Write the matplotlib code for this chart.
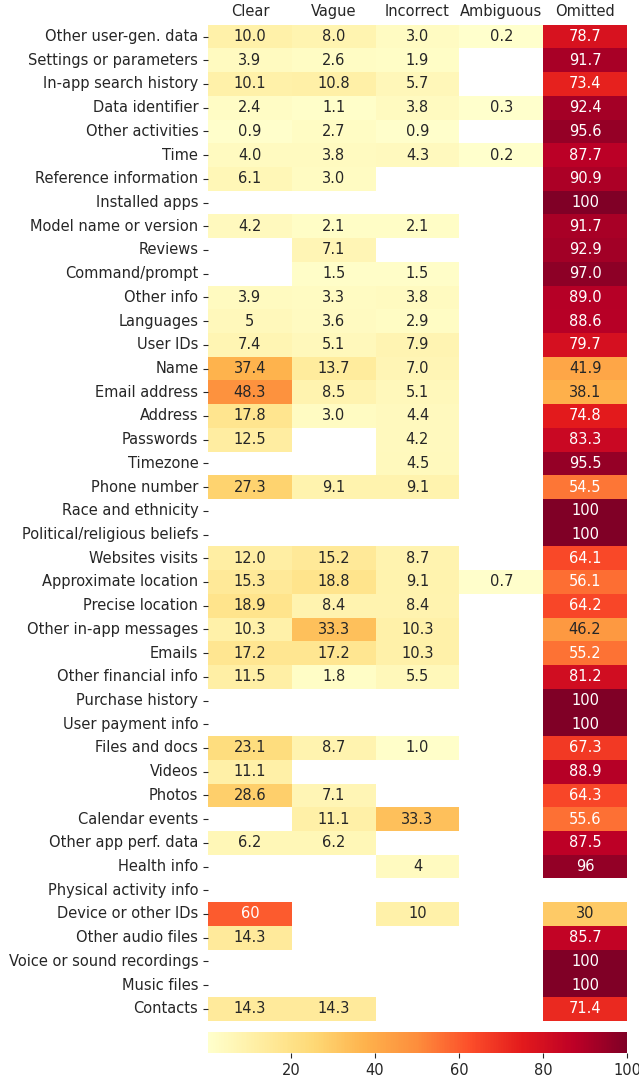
#!/usr/bin/env python3

import matplotlib
matplotlib.use("Agg")
import matplotlib.pyplot as plt
import numpy as np
import pandas as pd
import seaborn as sns


ROWS = [
    "Other user-gen. data", "Settings or parameters", "In-app search history",
    "Data identifier", "Other activities", "Time", "Reference information",
    "Installed apps", "Model name or version", "Reviews", "Command/prompt",
    "Other info", "Languages", "User IDs", "Name", "Email address", "Address",
    "Passwords", "Timezone", "Phone number", "Race and ethnicity",
    "Political/religious beliefs", "Websites visits", "Approximate location",
    "Precise location", "Other in-app messages", "Emails", "Other financial info",
    "Purchase history", "User payment info", "Files and docs", "Videos", "Photos",
    "Calendar events", "Other app perf. data", "Health info",
    "Physical activity info", "Device or other IDs", "Other audio files",
    "Voice or sound recordings", "Music files", "Contacts",
]
COLUMNS = ["Clear", "Vague", "Incorrect", "Ambiguous", "Omitted"]

# values as printed in the cells, "" = no data
clear = ["10.0", "3.9", "10.1", "2.4", "0.9", "4.0", "6.1", "", "4.2", "", "",
         "3.9", "5", "7.4", "37.4", "48.3", "17.8", "12.5", "", "27.3", "", "",
         "12.0", "15.3", "18.9", "10.3", "17.2", "11.5", "", "", "23.1", "11.1",
         "28.6", "", "6.2", "", "", "60", "14.3", "", "", "14.3"]
vague = ["8.0", "2.6", "10.8", "1.1", "2.7", "3.8", "3.0", "", "2.1", "7.1", "1.5",
         "3.3", "3.6", "5.1", "13.7", "8.5", "3.0", "", "", "9.1", "", "",
         "15.2", "18.8", "8.4", "33.3", "17.2", "1.8", "", "", "8.7", "",
         "7.1", "11.1", "6.2", "", "", "", "", "", "", "14.3"]
incorrect = ["3.0", "1.9", "5.7", "3.8", "0.9", "4.3", "", "", "2.1", "", "1.5",
             "3.8", "2.9", "7.9", "7.0", "5.1", "4.4", "4.2", "4.5", "9.1", "", "",
             "8.7", "9.1", "8.4", "10.3", "10.3", "5.5", "", "", "1.0", "",
             "", "33.3", "", "4", "", "10", "", "", "", ""]
ambiguous = ["0.2", "", "", "0.3", "", "0.2", "", "", "", "", "",
             "", "", "", "", "", "", "", "", "", "", "",
             "", "0.7", "", "", "", "", "", "", "", "",
             "", "", "", "", "", "", "", "", "", ""]
omitted = ["78.7", "91.7", "73.4", "92.4", "95.6", "87.7", "90.9", "100", "91.7",
           "92.9", "97.0", "89.0", "88.6", "79.7", "41.9", "38.1", "74.8", "83.3",
           "95.5", "54.5", "100", "100", "64.1", "56.1", "64.2", "46.2", "55.2",
           "81.2", "100", "100", "67.3", "88.9", "64.3", "55.6", "87.5", "96",
           "", "30", "85.7", "100", "100", "71.4"]

FONT_SIZE = 10.5


def main() -> None:
    plt.rcParams["text.color"] = "#262626"
    plt.rcParams["xtick.color"] = "#262626"
    plt.rcParams["ytick.color"] = "#262626"

    labels = pd.DataFrame(
        {"Clear": clear, "Vague": vague, "Incorrect": incorrect,
         "Ambiguous": ambiguous, "Omitted": omitted},
        index=ROWS,
    )[COLUMNS]
    values = labels.replace("", np.nan).astype(float)

    W, H = 639, 1078
    fig = plt.figure(figsize=(W / 100, H / 100), dpi=100)
    ax = fig.add_axes([208 / W, (H - 1020.7) / H, 419 / W, 996 / H])
    cax = fig.add_axes([208 / W, (H - 1053) / H, 419 / W, 21 / H])

    sns.heatmap(
        values, ax=ax, cbar_ax=cax, cmap="YlOrRd",
        annot=labels.values, fmt="", annot_kws={"fontsize": FONT_SIZE},
        cbar_kws={"orientation": "horizontal"},
    )
    ax.xaxis.tick_top()
    ax.tick_params(axis="x", length=0, labelsize=FONT_SIZE, pad=4)
    ax.tick_params(axis="y", labelsize=FONT_SIZE)
    ax.set_xticklabels(COLUMNS, rotation=0)
    ax.set_yticklabels(ROWS, rotation=0)
    ax.set_xlabel("")
    ax.set_ylabel("")

    cax.tick_params(labelsize=FONT_SIZE)
    cax.set_xticks([20, 40, 60, 80, 100])

    fig.savefig("out.png", dpi=100)
    plt.close(fig)


if __name__ == "__main__":
    main()
